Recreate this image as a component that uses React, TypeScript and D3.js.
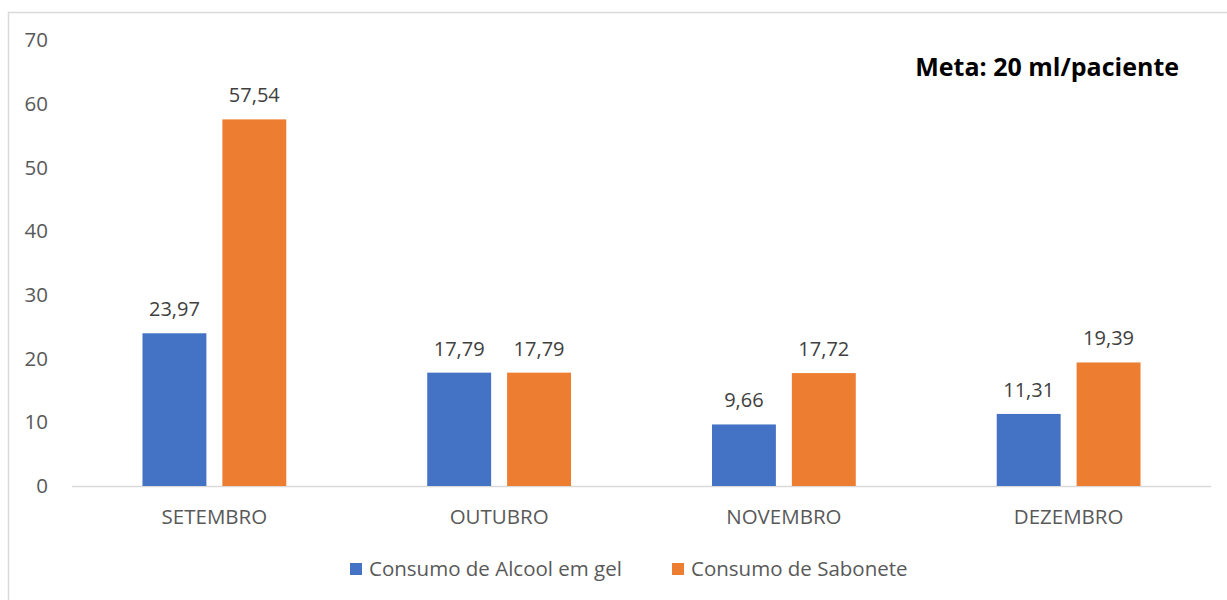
import React from "react";
import * as d3 from "d3";

const categories = ["SETEMBRO", "OUTUBRO", "NOVEMBRO", "DEZEMBRO"];
const alcoolValues = [23.97, 17.79, 9.66, 11.31];
const saboneteValues = [57.54, 17.79, 17.72, 19.39];
const seriesNames = ["Consumo de Alcool em gel", "Consumo de Sabonete"];
const yTicks = [0, 10, 20, 30, 40, 50, 60, 70];
const annotation = "Meta: 20 ml/paciente";

const colors = ["#4472C4", "#ED7D31"];
const FONT = "'Open Sans', 'Noto Sans', sans-serif";
const TEXT = "#595959";

export default function App() {
  const W = 1227, H = 600;
  const left = 72, right = 1211, top = 40, bottom = 486;
  const x = d3.scaleBand<string>().domain(categories).range([left, right]).paddingInner(0.495).paddingOuter(0.2475);
  const y = d3.scaleLinear().domain([0, 70]).range([bottom, top]);
  const series = [alcoolValues, saboneteValues];
  const x1 = d3.scaleBand<number>().domain([0, 1]).range([0, x.bandwidth()]).paddingInner(0.2);
  const fmt = (v: number) => v.toFixed(2).replace(".", ",");

  return (
    <svg width={W} height={H} style={{ position: "absolute", left: 0, top: 0 }}>
      <rect x={0} y={0} width={W} height={H} fill="#fff" />
      <rect x={8.5} y={12.5} width={1240} height={620} fill="none" stroke="#D9D9D9" strokeWidth={1.5} />
      {yTicks.map((t) => (
        <text key={t} x={48} y={y(t)} dy="0.35em" textAnchor="end" fontFamily={FONT} fontSize={20.5} fill={TEXT}>
          {t}
        </text>
      ))}
      <line x1={left} x2={right} y1={bottom + 0.5} y2={bottom + 0.5} stroke="#D9D9D9" strokeWidth={1.5} />
      {categories.map((c, i) => (
        <g key={c}>
          {series.map((vals, s) => (
            <g key={s}>
              <rect
                x={(x(c) as number) + (x1(s) as number)}
                y={y(vals[i])}
                width={x1.bandwidth()}
                height={bottom - y(vals[i])}
                fill={colors[s]}
              />
              <text
                x={(x(c) as number) + (x1(s) as number) + x1.bandwidth() / 2}
                y={y(vals[i]) - 24}
                dy="0.35em"
                textAnchor="middle"
                fontFamily={FONT}
                fontSize={20}
                fill="#404040"
              >
                {fmt(vals[i])}
              </text>
            </g>
          ))}
          <text
            x={(x(c) as number) + x.bandwidth() / 2}
            y={517}
            dy="0.35em"
            textAnchor="middle"
            fontFamily={FONT}
            fontSize={20.5}
            fill={TEXT}
          >
            {c}
          </text>
        </g>
      ))}
      <text x={1179} y={67} dy="0.35em" textAnchor="end" fontFamily={FONT} fontSize={25} fontWeight="bold" fill="#000">
        {annotation}
      </text>
      {seriesNames.map((n, s) => {
        const lx = [350, 672][s];
        return (
          <g key={n}>
            <rect x={lx} y={563} width={12} height={12} fill={colors[s]} />
            <text x={lx + 19} y={569} dy="0.35em" fontFamily={FONT} fontSize={20.5} fill={TEXT}>
              {n}
            </text>
          </g>
        );
      })}
    </svg>
  );
}
